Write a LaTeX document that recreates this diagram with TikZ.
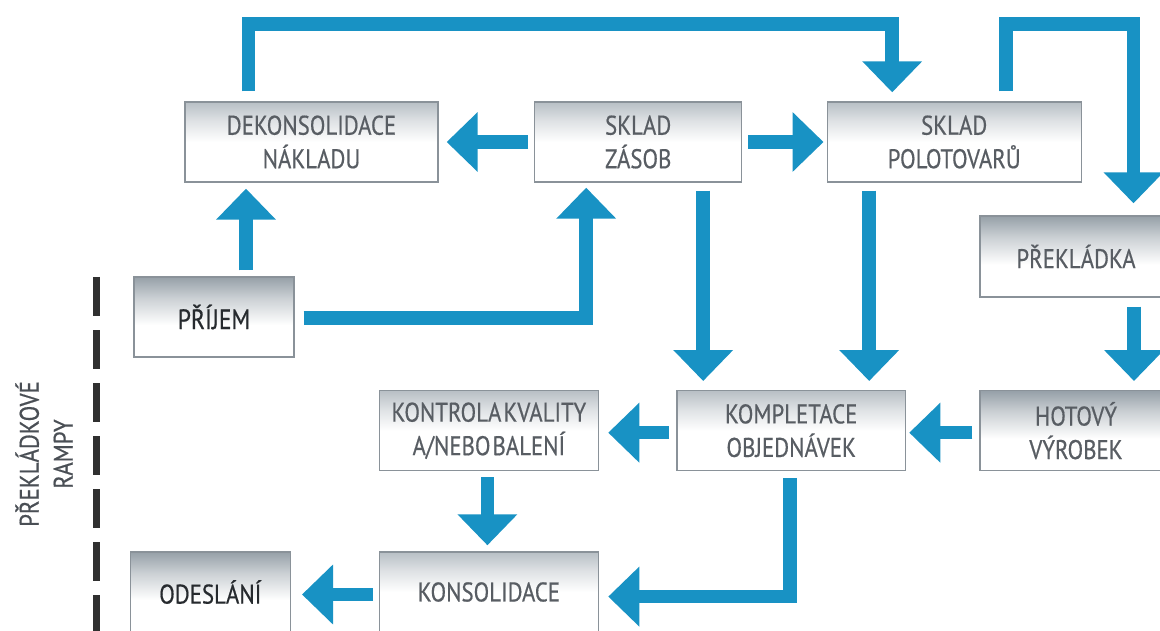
\documentclass[tikz,border=0pt]{standalone}
\usepackage{fontspec}
\setmainfont[FakeStretch=0.845,FakeBold=0.5]{PT Sans}
\usetikzlibrary{arrows.meta,calc}

\definecolor{flowblue}{RGB}{24,146,196}
\definecolor{boxline}{RGB}{138,146,153}
\definecolor{boxtext}{RGB}{88,93,99}
\definecolor{boxdark}{RGB}{38,42,46}
\definecolor{shadelight}{RGB}{184,191,197}
\definecolor{shadedark}{RGB}{150,160,168}
\definecolor{rampline}{RGB}{48,48,48}
\definecolor{ramptext}{RGB}{74,79,85}

\pgfdeclareverticalshading{boxlight}{100bp}{color(0bp)=(white); color(50bp)=(white); color(63bp)=(shadelight!45!white); color(75bp)=(shadelight); color(100bp)=(shadelight)}
\pgfdeclareverticalshading{boxdarker}{100bp}{color(0bp)=(white); color(45bp)=(white); color(62bp)=(shadedark!50!white); color(75bp)=(shadedark); color(100bp)=(shadedark)}

\tikzset{
  stepbox/.style={draw=boxline, line width=1.4pt, shade, shading=boxlight,
    minimum height=80pt, inner sep=0pt, align=center, text=boxtext,
    font=\fontsize{27}{33.5}\selectfont},
  darkbox/.style={stepbox, shading=boxdarker},
  flow/.style={draw=flowblue, line width=13.5pt,
    -{Triangle[width=58pt,length=31pt]}},
}

\begin{document}
\begin{tikzpicture}[x=1pt,y=1pt]
\useasboundingbox (0,0) rectangle (1160,-631);
\clip (0,0) rectangle (1160,-631);
\fill[white] (0,0) rectangle (1160,-631);

% boxes
\node[stepbox, minimum width=253pt] (dekon) at (311.5,-142) {DEKONSOLIDACE\\NÁKLADU};
\node[stepbox, minimum width=207pt] (zasob) at (638.2,-142) {SKLAD\\ZÁSOB};
\node[stepbox, minimum width=254pt] (polo) at (954.2,-142) {SKLAD\\POLOTOVARŮ};
\node[darkbox, minimum width=192pt, minimum height=81pt] (prek) at (1076,-256.5) {PŘEKLÁDKA};
\node[darkbox, minimum width=160pt, text=boxdark, font=\fontsize{28}{33.5}\selectfont] (prijem) at (214,-317) {PŘÍJEM};
\node[stepbox, minimum width=219.3pt] (kontrola) at (488.9,-430.7) {KONTROLA\hspace{2pt}KVALITY\\A/NEBO\hspace{2pt}BALENÍ};
\node[stepbox, minimum width=228.7pt] (kompl) at (791.2,-430.7) {KOMPLETACE\\OBJEDNÁVEK};
\node[darkbox, minimum width=192pt] (hotovy) at (1076,-430.7) {HOTOVÝ\\VÝROBEK};
\node[darkbox, minimum width=160pt, text=boxdark] (odes) at (210.3,-592) {ODESLÁNÍ};
\node[stepbox, minimum width=219.3pt] (kons) at (488.9,-592) {KONSOLIDACE};

% loading ramps
\draw[rampline, line width=7pt, dash pattern=on 38.5pt off 14.5pt] (96,-277) -- (96,-650);
\node[rotate=90, align=center, text=ramptext, font=\fontsize{27}{34}\selectfont] (rampy) at (44,-454) {PŘEKLÁDKOVÉ\\RAMPY};

% flows
\draw[flow] ($(prijem.north)+(32,6)$) -- ($(dekon.south)+(-65.5,-6)$);
\draw[flow] ($(prijem.east)+(9,-1)$) -| ($(zasob.south)+(-52,-5)$);
\draw[flow] ($(zasob.west)+(-6,0)$) -- ($(dekon.east)+(8,0)$);
\draw[flow] ($(zasob.east)+(6,0)$) -- ($(polo.west)+(-3,0)$);
\draw[flow] ($(dekon.north)+(-63,10)$) -- ++(0,67.5) -| ($(polo.north)+(-62,9)$);
\draw[flow] ($(polo.north)+(52,10)$) -- ++(0,67.5) -| ($(prek.north)+(57.5,12)$);
\draw[flow] ($(zasob.south)+(65,-8)$) -- ($(kompl.north)+(-88,9)$);
\draw[flow] ($(polo.south)+(-85,-8)$) -- ($(kompl.north)+(78,9)$);
\draw[flow] ($(prek.south)+(58,-9)$) -- ($(hotovy.north)+(58,9)$);
\draw[flow] ($(hotovy.west)+(-7,-2)$) -- ($(kompl.east)+(3,-2)$);
\draw[flow] ($(kompl.west)+(-7,-2)$) -- ($(kontrola.east)+(9,-2)$);
\draw[flow] ($(kontrola.south)+(-1.5,-6)$) -- ($(kons.north)+(-1.5,6)$);
\draw[flow] ($(kompl.south)+(-1,-7)$) |- ($(kons.east)+(9,-4.6)$);
\draw[flow] ($(kons.west)+(-5.5,-2.5)$) -- ($(odes.east)+(11,-2.5)$);
\end{tikzpicture}
\end{document}
